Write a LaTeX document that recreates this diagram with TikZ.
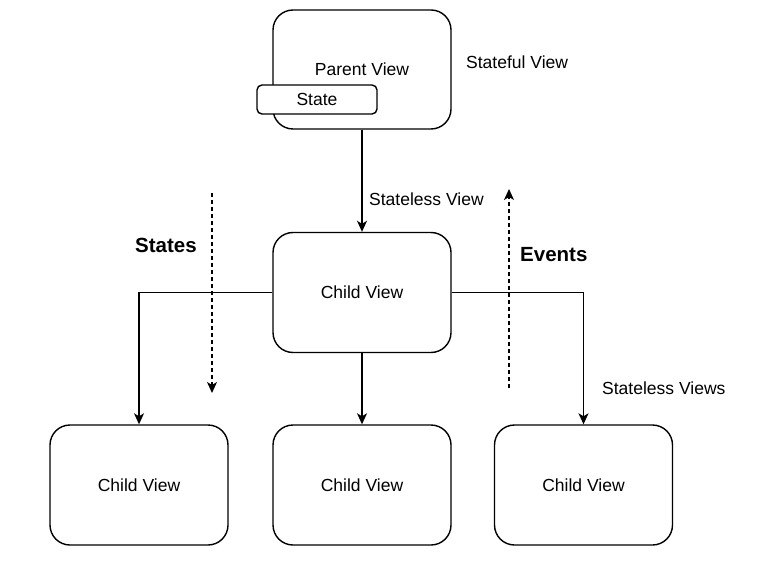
\documentclass[tikz,border=0pt]{standalone}
\usepackage{fontspec}
\setmainfont{Liberation Sans}
\usetikzlibrary{arrows.meta}
\begin{document}
\begin{tikzpicture}[x=1pt,y=-1pt,
  view/.style={draw, line width=1.4pt, rounded corners=20pt, minimum width=178pt, minimum height=120pt, inner sep=0pt, fill=white, font=\fontsize{17.5}{21}\selectfont},
  statebox/.style={draw, line width=1.4pt, rounded corners=5pt, minimum width=120pt, minimum height=29pt, inner sep=0pt, fill=white, font=\fontsize{17.5}{21}\selectfont},
  lbl/.style={inner sep=0pt, anchor=west, font=\fontsize{17.5}{21}\selectfont},
  blbl/.style={inner sep=0pt, anchor=west, font=\fontsize{20.5}{24}\selectfont\bfseries},
  arr/.style={line width=1.4pt, -{Stealth[length=11pt,width=10pt,inset=3pt]}},
  darr/.style={line width=1.3pt, dash pattern=on 4pt off 3pt, -{Stealth[length=11pt,width=10pt,inset=3pt]}}
]
\useasboundingbox (0,0) rectangle (767,561);
% parent
\node[view, minimum height=119pt] (p) at (362,69.5) {};
\node[lbl, anchor=center] (ptxt) at (362,69) {Parent View};
\node[statebox] (s) at (317,99.5) {State};
\node[lbl] (sf) at (466,62) {Stateful View};
% child middle
\node[view] (c) at (362,292.5) {Child View};
\draw[arr] (p.south) -- (c.north);
\node[lbl] (slv) at (369,199) {Stateless View};
% bottom children
\node[view] (l) at (139,485) {Child View};
\node[view] (m) at (362,485) {Child View};
\node[view] (r) at (583.5,485) {Child View};
\draw[arr] (c.west) -| (l.north);
\draw[arr] (c.south) -- (m.north);
\draw[arr] (c.east) -| (r.north);
\node[lbl] (slvs) at (602,388) {Stateless Views};
% dashed
\coordinate (d1a) at (212,193);
\coordinate (d1b) at (212,393);
\draw[darr] (d1a) -- (d1b);
\coordinate (d2a) at (509,388);
\coordinate (d2b) at (509,189);
\draw[darr] (d2a) -- (d2b);
\node[blbl] (st) at (135,245) {States};
\node[blbl] (ev) at (520,255) {Events};
\end{tikzpicture}
\end{document}
